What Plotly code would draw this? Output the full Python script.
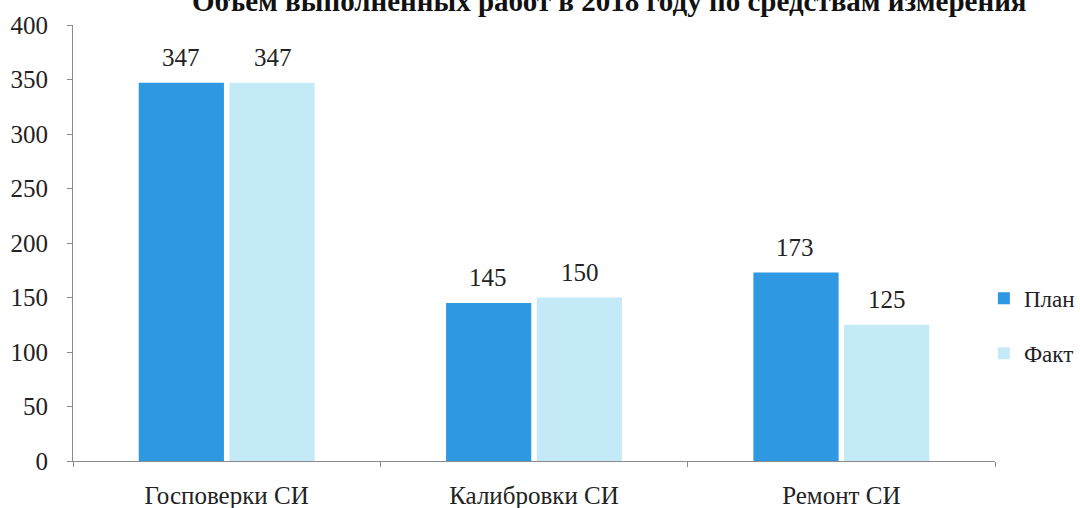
import plotly.graph_objects as go

# data
categories = ["Госповерки СИ", "Калибровки СИ", "Ремонт СИ"]
plan = [347, 145, 173]
fact = [347, 150, 125]
series_names = ["План", "Факт"]
title_text = "Объем выполненных работ в 2018 году по средствам измерения"

font_family = "Liberation Serif"
colors = ["#2f98e3", "#c4eaf7"]

fig = go.Figure()
for i, (name, vals) in enumerate(zip(series_names, [plan, fact])):
    fig.add_trace(go.Bar(
        x=categories, y=vals, name=name, legendgroup=name,
        marker=dict(color=colors[i], line=dict(width=0)),
    ))
    # value labels above the bars (shifted to the bar's slot in the group)
    for cat, v in zip(categories, vals):
        fig.add_annotation(
            x=cat, y=v, text=str(v), showarrow=False,
            xshift=-46 if i == 0 else 46, yshift=25, yanchor="middle",
            font=dict(size=25, family=font_family, color="#222222"),
        )

# title is cut off by the top edge in the original scan
fig.add_annotation(
    text=title_text, xref="paper", yref="paper",
    x=0.582, y=1.0, yanchor="middle", yshift=24,
    showarrow=False,
    font=dict(size=29, family=font_family, color="#111111", weight="bold"),
)

fig.update_layout(
    width=1080, height=508,
    paper_bgcolor="white", plot_bgcolor="white",
    barmode="group", bargap=0.41, bargroupgap=0.06,
    margin=dict(l=73, r=85, t=25, b=47, autoexpand=False),
    font=dict(family=font_family, size=25, color="#222222"),
    showlegend=True,
    legend=dict(
        xref="container", x=0.911, y=0.31, xanchor="left", yanchor="middle",
        font=dict(size=23, family=font_family, color="#222222"),
        itemwidth=30, tracegroupgap=22,
        bgcolor="rgba(0,0,0,0)",
    ),
)

fig.update_yaxes(
    range=[0, 400], dtick=50, automargin=False,
    showgrid=False, zeroline=False,
    showline=True, linecolor="#8a8a8a", linewidth=1,
    ticks="outside", ticklen=5, tickcolor="#8a8a8a",
    ticklabelstandoff=14,
    tickfont=dict(size=25, family=font_family, color="#222222"),
)
fig.update_xaxes(
    automargin=False,
    showgrid=False,
    showline=True, linecolor="#8a8a8a", linewidth=1,
    ticks="outside", ticklen=5, tickcolor="#8a8a8a",
    tickson="boundaries", ticklabelstandoff=12,
    tickfont=dict(size=25, family=font_family, color="#222222"),
)

fig.write_html("out.html", config={"displayModeBar": False},
               post_script="document.body.style.margin='0';")
